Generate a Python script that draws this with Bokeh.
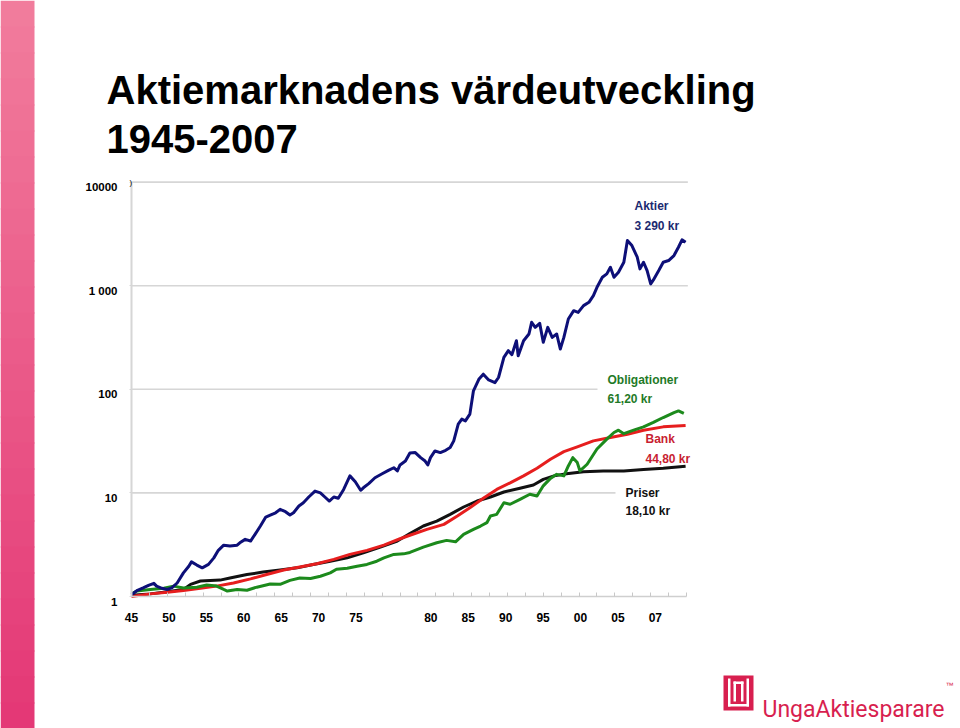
from bokeh.plotting import figure
from bokeh.models import (Range1d, FixedTicker, Label, BoxAnnotation,
                          LinearAxis, LogAxis)
from bokeh.core.properties import value
from bokeh.embed import file_html
from bokeh.resources import INLINE

# ---------------- data ----------------
aktier_year = [
    1945.0, 1945.6, 1946.3, 1946.9, 1947.5, 1947.8, 1948.4, 1949.0, 1949.5, 1950.1,
    1950.8, 1951.4, 1951.7, 1952.3, 1952.9, 1953.6, 1954.2, 1954.7, 1955.3, 1956.0,
    1956.8, 1957.1, 1957.7, 1958.3, 1958.8, 1959.4, 1960.0, 1960.5, 1961.1, 1961.6,
    1962.2, 1962.7, 1963.1, 1963.7, 1964.2, 1964.8, 1965.5, 1966.1, 1966.6, 1967.1,
    1967.6, 1968.1, 1968.7, 1969.4, 1970.0, 1970.6, 1970.9, 1971.5, 1972.2, 1973.0,
    1973.7, 1974.3, 1974.7, 1975.0, 1975.6, 1976.1, 1976.7, 1977.3, 1977.8, 1978.1,
    1978.4, 1978.9, 1979.5, 1980.1, 1980.6, 1981.0, 1981.5, 1981.9, 1982.3, 1982.8,
    1983.2, 1983.8, 1984.3, 1984.9, 1985.6, 1986.0, 1986.6, 1987.1, 1987.5, 1988.0,
    1988.2, 1988.8, 1989.4, 1989.7, 1990.1, 1990.6, 1991.0, 1991.5, 1992.0, 1992.5,
    1992.9, 1993.3, 1993.8, 1994.4, 1994.9, 1995.5, 1996.1, 1996.6, 1997.0, 1997.6,
    1998.1, 1998.5, 1998.9, 1999.4, 2000.0, 2000.4, 2000.9, 2001.5, 2001.8, 2002.2,
    2002.6, 2003.0, 2003.3, 2003.9, 2004.4, 2005.0, 2005.6, 2006.1, 2006.5, 2006.9,
]
aktier_value = [
    1.04, 1.14, 1.21, 1.28, 1.34, 1.26, 1.20, 1.17, 1.21, 1.35,
    1.69, 1.96, 2.16, 2.01, 1.89, 2.04, 2.36, 2.79, 3.13, 3.07,
    3.13, 3.30, 3.56, 3.43, 3.98, 4.79, 5.85, 6.11, 6.43, 6.94,
    6.58, 6.11, 6.43, 7.47, 8.04, 9.13, 10.4, 10.0, 9.13, 8.35,
    9.13, 8.87, 10.8, 14.6, 12.8, 10.6, 11.2, 12.3, 14.0, 15.3,
    16.5, 17.5, 16.3, 18.6, 20.3, 24.3, 24.5, 21.9, 20.3, 18.6,
    21.9, 25.4, 24.5, 25.8, 27.4, 31.8, 46.1, 51.5, 49.6, 57.6,
    96.7, 125, 140, 123, 116, 130, 203, 236, 216, 294,
    211, 294, 342, 443, 396, 433, 284, 396, 317, 342,
    245, 317, 477, 574, 553, 642, 691, 802, 965, 1206,
    1301, 1506, 1206, 1348, 1684, 2730, 2442, 1883, 1454, 1684,
    1400, 1041, 1138, 1400, 1684, 1749, 1955, 2351, 2773, 2628,
]

oblig_year = [
    1945.0, 1945.6, 1947.1, 1948.6, 1949.7, 1950.8, 1952.3, 1953.4, 1954.5, 1955.3,
    1955.7, 1956.8, 1957.9, 1959.0, 1960.5, 1961.6, 1962.7, 1963.8, 1965.0, 1966.1,
    1967.2, 1967.9, 1969.1, 1970.2, 1971.3, 1972.4, 1973.2, 1974.3, 1975.4, 1976.1,
    1977.6, 1979.1, 1980.2, 1981.2, 1982.1, 1983.2, 1984.0, 1984.7, 1985.1, 1985.8,
    1986.6, 1987.3, 1988.4, 1989.5, 1990.3, 1991.0, 1991.8, 1992.5, 1993.3, 1993.8,
    1994.3, 1994.8, 1995.1, 1995.9, 1997.0, 1998.1, 1998.9, 1999.4, 2000.0, 2001.1,
    2002.2, 2003.3, 2004.4, 2005.6, 2006.1, 2006.7,
]
oblig_value = [
    1.06, 1.13, 1.17, 1.20, 1.26, 1.21, 1.23, 1.29, 1.26, 1.17,
    1.13, 1.17, 1.15, 1.23, 1.32, 1.31, 1.43, 1.51, 1.49, 1.57,
    1.69, 1.83, 1.87, 1.96, 2.04, 2.19, 2.36, 2.55, 2.58, 2.66,
    3.00, 3.30, 3.48, 3.37, 3.98, 4.45, 4.79, 5.16, 5.98, 6.21,
    8.04, 7.77, 8.66, 9.71, 9.34, 11.7, 13.8, 15.1, 14.6, 18.2,
    21.9, 19.6, 16.3, 18.9, 26.5, 33.0, 38.3, 40.3, 37.3, 40.3,
    43.4, 47.9, 53.4, 59.6, 61.9, 58.5,
]

bank_year = [
    1945.0, 1947.1, 1949.0, 1950.8, 1952.7, 1954.5, 1956.4, 1958.3, 1960.1, 1962.0,
    1963.8, 1965.7, 1967.6, 1969.4, 1971.3, 1973.2, 1975.0, 1976.1, 1978.0, 1979.9,
    1981.4, 1982.8, 1984.3, 1985.8, 1987.3, 1988.8, 1990.3, 1991.8, 1993.3, 1994.8,
    1996.6, 1998.5, 2000.4, 2002.2, 2004.4, 2006.9,
]
bank_value = [
    1.00, 1.06, 1.10, 1.14, 1.20, 1.26, 1.35, 1.48, 1.63, 1.80,
    1.93, 2.07, 2.28, 2.55, 2.79, 3.13, 3.61, 3.90, 4.45, 4.97,
    5.98, 7.19, 8.87, 10.8, 12.5, 14.6, 17.3, 21.1, 25.0, 27.8,
    31.8, 34.2, 36.8, 40.3, 43.4, 44.8,
]

priser_year = [
    1945.0, 1947.1, 1949.0, 1950.8, 1951.6, 1952.7, 1954.9, 1956.0, 1957.9, 1959.7,
    1961.6, 1963.5, 1965.3, 1967.2, 1969.1, 1970.9, 1972.8, 1974.7, 1976.1, 1977.6,
    1979.1, 1980.6, 1982.1, 1983.6, 1985.1, 1986.6, 1988.4, 1989.9, 1991.0, 1992.2,
    1993.6, 1995.5, 1997.7, 2000.0, 2002.2, 2004.4, 2006.9,
]
priser_value = [
    1.03, 1.06, 1.11, 1.17, 1.31, 1.41, 1.44, 1.51, 1.63, 1.72,
    1.80, 1.89, 2.04, 2.19, 2.36, 2.64, 3.00, 3.43, 4.05, 4.79,
    5.35, 6.21, 7.31, 8.35, 9.13, 10.2, 11.1, 11.9, 13.5, 14.6,
    15.3, 16.0, 16.3, 16.3, 16.8, 17.3, 18.1,
]

series_names = ["Aktier", "Obligationer", "Bank", "Priser"]
end_labels = ["3 290 kr", "61,20 kr", "44,80  kr", "18,10 kr"]

y_tick_values = [1, 10, 100, 1000, 10000]
y_tick_labels = ["1", "10", "100", "1 000", "10000"]
x_tick_labels = ["45", "50", "55", "60", "65", "70", "75",
                 "80", "85", "90", "95", "00", "05", "07"]
x_minor_years = list(range(1945, 2008, 2))

title_lines = ["Aktiemarknadens värdeutveckling", "1945-2007"]
logo_text = "UngaAktiesparare"

# ---------------- layout ----------------
W, H = 960, 728
FONT = "Liberation Sans"
X_START, X_END = 1945, 2007
Y_MIN, Y_MAX = 1, 10000
PX_X0, PX_X1 = 131, 686       # where 1945 and 2007 sit on the page
PX_Y1, PX_DEC = 596, 103.6    # where value 1 sits, pixels per decade

ppy = (PX_X1 - PX_X0) / (X_END - X_START)
x_range = Range1d(X_START - PX_X0 / ppy, X_END + (W - PX_X1) / ppy)
y_range = Range1d(10 ** (-(H - PX_Y1) / PX_DEC), 10 ** (PX_Y1 / PX_DEC))

p = figure(width=W, height=H, x_range=x_range, y_range=y_range,
           y_axis_type="log", x_axis_location=None, y_axis_location=None,
           output_backend="svg", toolbar_location=None, min_border=0,
           background_fill_color="white", border_fill_color="white",
           outline_line_color=None)
p.xgrid.visible = False
p.ygrid.visible = False


def sx(px):
    return px


def sy(py):
    return H - py


# horizontal grid lines (from the y axis to the end of the x axis)
grid_vals = y_tick_values[1:]
p.segment(x0=[X_START] * len(grid_vals), x1=[X_END + 0.15] * len(grid_vals),
          y0=grid_vals, y1=grid_vals, line_color="#d6d6d6", line_width=1.6)

# y axis (line + small ticks), labels drawn as text just below each gridline
yax = LogAxis(fixed_location=X_START, bounds=(Y_MIN, Y_MAX),
              ticker=FixedTicker(ticks=y_tick_values, minor_ticks=[]),
              axis_line_color="#d6d6d6", axis_line_width=2,
              major_tick_in=0, major_tick_out=2, major_tick_line_color="#d6d6d6",
              minor_tick_line_color=None,
              major_label_text_font_size="0px")
yax.major_label_overrides = {v: "" for v in y_tick_values}
p.add_layout(yax, "left")

p.text(x=[X_START] * len(y_tick_values), y=y_tick_values, text=y_tick_labels,
       x_offset=-14, y_offset=5, text_align="right", text_baseline="middle",
       text_font=value(FONT), text_font_style="bold", text_font_size="11.5px",
       text_color="black")

# x axis: labels sit in evenly spaced slots (one empty slot between 75 and 80)
slots = [0, 1, 2, 3, 4, 5, 6, 8, 9, 10, 11, 12, 13, 14]
x_label_pos = [round(X_START + 4.18 * s, 2) for s in slots]
xax = LinearAxis(fixed_location=Y_MIN, bounds=(X_START, X_END),
                 ticker=FixedTicker(ticks=x_label_pos, minor_ticks=x_minor_years),
                 axis_line_color="#cfcfcf", axis_line_width=1.5,
                 major_tick_in=0, major_tick_out=0,
                 minor_tick_in=4, minor_tick_out=0, minor_tick_line_color="#c8c8c8",
                 major_label_standoff=16,
                 major_label_text_font=FONT, major_label_text_font_style="bold",
                 major_label_text_font_size="12px", major_label_text_color="black")
xax.major_label_overrides = dict(zip(x_label_pos, x_tick_labels))
p.add_layout(xax, "below")

# series
p.line(priser_year, priser_value, line_color="#111111", line_width=3, line_join="round")
p.line(bank_year, bank_value, line_color="#e61e1e", line_width=3, line_join="round")
p.line(oblig_year, oblig_value, line_color="#1c8a1c", line_width=3, line_join="round")
p.line(aktier_year, aktier_value, line_color="#0d0f78", line_width=3, line_join="round")


def box(l, r, t, b, color):
    p.add_layout(BoxAnnotation(left=sx(l), right=sx(r), top=sy(t), bottom=sy(b),
                               left_units="screen", right_units="screen",
                               top_units="screen", bottom_units="screen",
                               fill_color=color, fill_alpha=1, line_color=None))


def add_text(txt, px, py, color="black", size=12, style="bold",
             align="left", baseline="middle", font=FONT):
    p.add_layout(Label(x=sx(px), y=sy(py), x_units="screen", y_units="screen",
                       text=txt, text_color=color, text_font=font,
                       text_font_size=f"{size}px", text_font_style=style,
                       text_align=align, text_baseline=baseline))


# white patches under the end labels (the text boxes hide the gridline)
box(597, 700, 384, 393, "white")
box(615, 700, 488, 497, "white")

# end-value annotations
label_specs = [
    (634, 205, 225, "#1b2a70"),
    (607, 379, 398, "#1f7a28"),
    (645, 438, 458, "#c81e32"),
    (625, 492, 510, "#111111"),
]
for name, val, (px, py1, py2, col) in zip(series_names, end_labels, label_specs):
    add_text(name, px, py1, col)
    add_text(val, px, py2, col)

# title
add_text(title_lines[0], 106, 89, size=40, baseline="alphabetic")
add_text(title_lines[1], 106, 138, size=40, baseline="alphabetic")

# small stray mark at the top-left corner of the chart
add_text(")", 129, 182, size=8, style="normal")

# pink side bar (vertical gradient made of bands)
top_c, bot_c = (241, 124, 156), (228, 56, 118)
n = 28
for i in range(n):
    t = i / (n - 1)
    c = tuple(int(round(a + (b - a) * t)) for a, b in zip(top_c, bot_c))
    box(0, 34, i * H / n, (i + 1) * H / n + 1, "#%02x%02x%02x" % c)

# logo
LOGO = "#d81f4f"
box(723, 753, 675, 710, LOGO)
box(727.5, 730, 678, 706, "white")
box(746, 748.5, 678, 706, "white")
box(727.5, 748.5, 703.5, 706, "white")
box(733, 735.5, 681, 701, "white")
box(740.5, 743, 681, 701, "white")
box(733, 743, 681, 683.5, "white")
add_text(logo_text, 762, 709, LOGO, size=23, style="normal",
         baseline="alphabetic", font="Roboto")
add_text("™", 945, 685, LOGO, size=8, style="normal")

open("out.html", "w").write(file_html(p, INLINE))
